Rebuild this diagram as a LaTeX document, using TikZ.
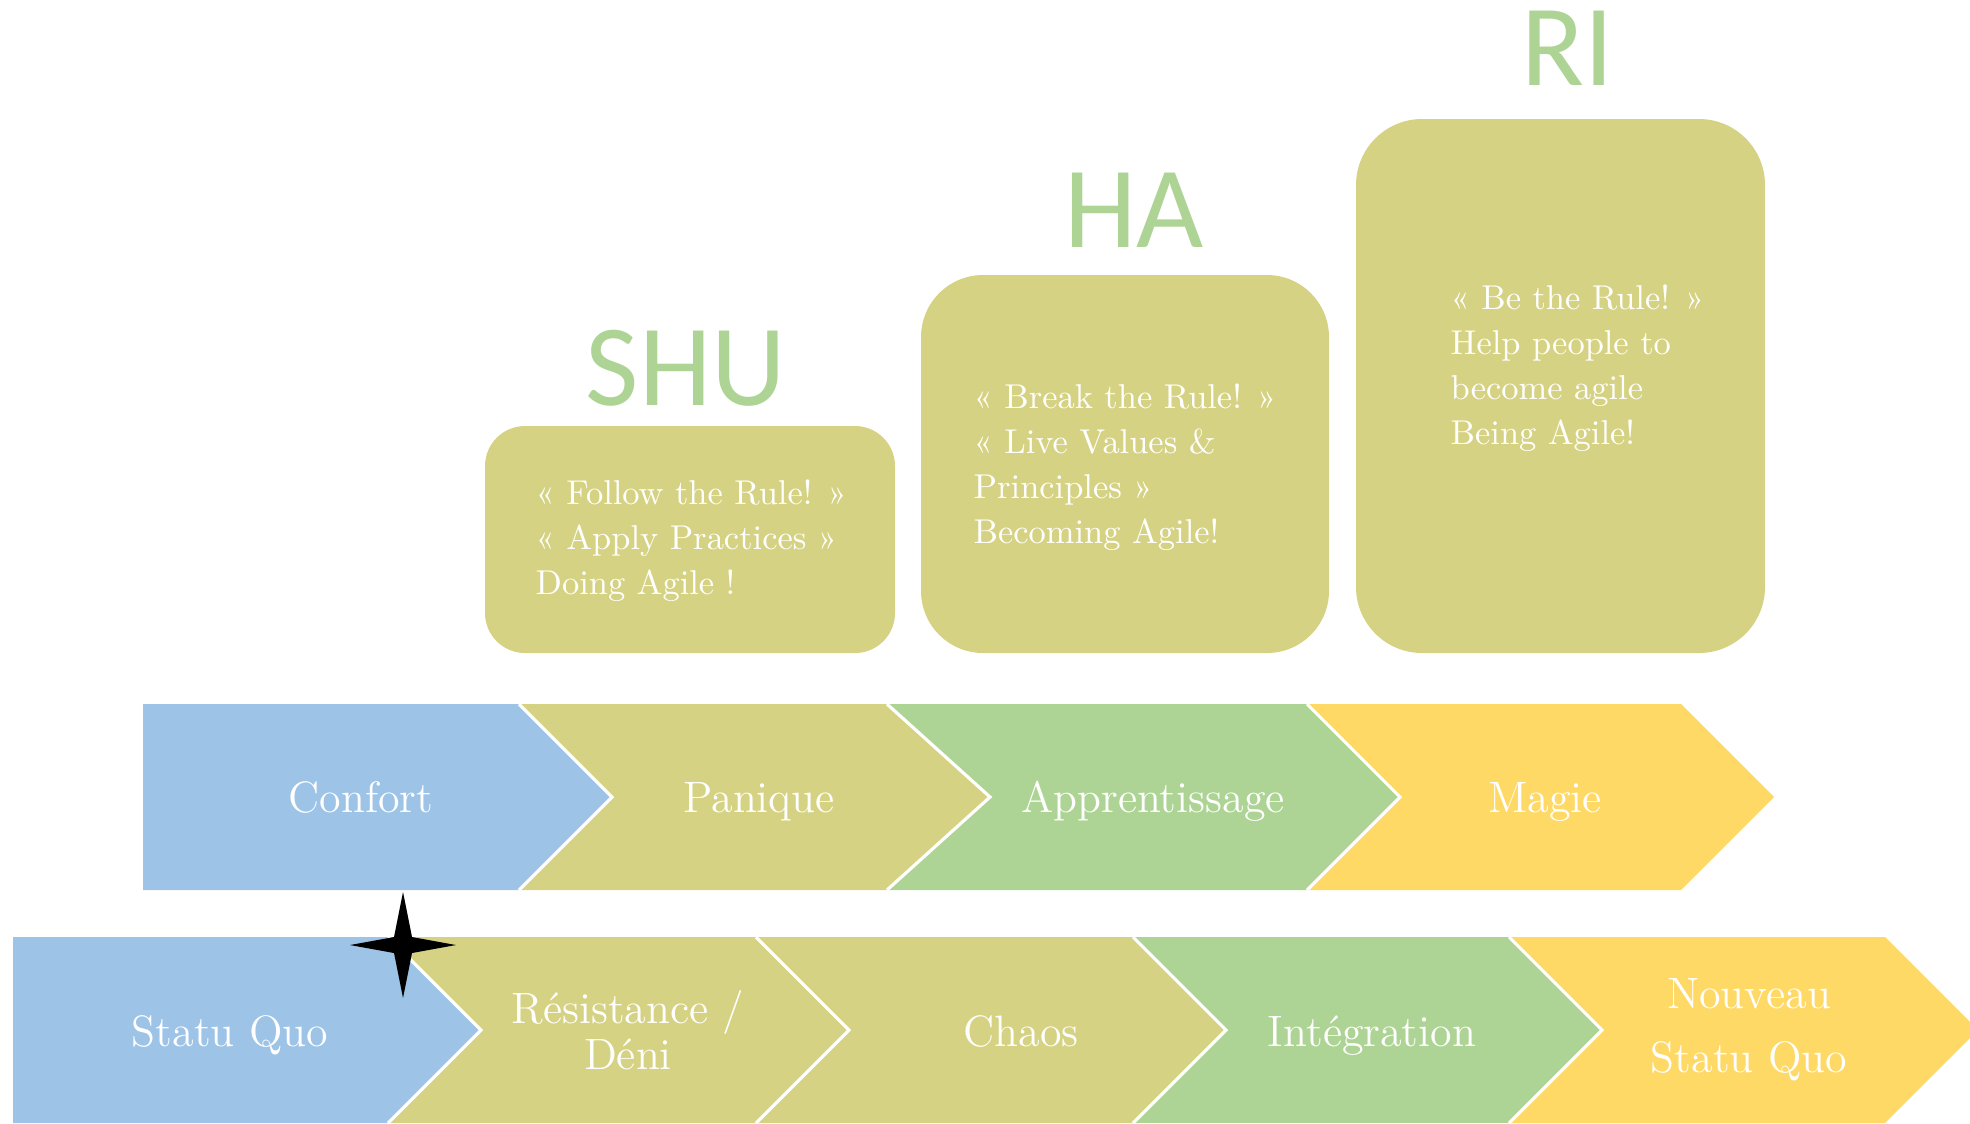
\documentclass[tikz,border=0pt]{standalone}
\usepackage{fontspec}
\newfontfamily\titlefont{Carlito}

\definecolor{comfortblue}{HTML}{9DC3E6}
\definecolor{olivekhaki}{HTML}{D6D283}
\definecolor{leafgreen}{HTML}{AED495}
\definecolor{sunyellow}{HTML}{FFD966}

\tikzset{
  stage/.style={white, inner sep=0pt, font=\fontsize{12.5}{13}\selectfont},
  stagesep/.style={white, line width=0.9pt},
  leveltext/.style={white, align=left, anchor=north west, inner sep=0pt,
    font=\fontsize{9.8}{12.8}\selectfont},
  leveltitle/.style={leafgreen, anchor=base, inner sep=0pt,
    font=\titlefont\fontsize{33}{33}\selectfont}
}

\begin{document}
\begin{tikzpicture}[x=0.01cm, y=-0.01cm]
    \useasboundingbox (0,0) rectangle (1970,1123);

    % levels
    \fill [olivekhaki, rounded corners=0.4cm] (485,426) rectangle (895,653);
    \fill [olivekhaki, rounded corners=0.62cm] (921,275) rectangle (1329,653);
    \fill [olivekhaki, rounded corners=0.66cm] (1356,119) rectangle (1765,653);
    \node [leveltitle] (shu) at (686,405) {SHU};
    \node [leveltitle] (ha) at (1134,247) {HA};
    \node [leveltitle] (ri) at (1568,85) {RI};
    \node [leveltext] (shutext) at (535,479) {« Follow the Rule! »\\« Apply Practices »\\Doing Agile !};
    \node [leveltext] (hatext) at (973,383) {« Break the Rule! »\\« Live Values \&\\Principles »\\Becoming Agile!};
    \node [leveltext] (ritext) at (1450,284) {« Be the Rule! »\\Help people to\\become agile\\Being Agile!};

    % top row
    \fill [comfortblue] (143,704) -- (519,704) -- (612,797) -- (519,890) -- (143,890) -- cycle;
    \fill [olivekhaki] (519,704) -- (887,704) -- (990,797) -- (887,890) -- (519,890) -- (612,797) -- cycle;
    \fill [leafgreen] (887,704) -- (1307,704) -- (1400,797) -- (1307,890) -- (887,890) -- (990,797) -- cycle;
    \fill [sunyellow] (1307,704) -- (1681,704) -- (1774,797) -- (1681,890) -- (1307,890) -- (1400,797) -- cycle;
    \draw [stagesep] (519,704) -- (612,797) -- (519,890);
    \draw [stagesep] (887,704) -- (990,797) -- (887,890);
    \draw [stagesep] (1307,704) -- (1400,797) -- (1307,890);
    \node [stage, anchor=base] (confort) at (361,812) {Confort};
    \node [stage, anchor=base] (panique) at (759,812) {Panique};
    \node [stage, anchor=base] (apprentissage) at (1153,812) {Apprentissage};
    \node [stage, anchor=base] (magie) at (1545,812) {Magie};

    % bottom row
    \fill [comfortblue] (13,937) -- (388,937) -- (481,1030) -- (388,1123) -- (13,1123) -- cycle;
    \fill [olivekhaki] (388,937) -- (756,937) -- (849,1030) -- (756,1123) -- (388,1123) -- (481,1030) -- cycle;
    \fill [olivekhaki] (756,937) -- (1133,937) -- (1226,1030) -- (1133,1123) -- (756,1123) -- (849,1030) -- cycle;
    \fill [leafgreen] (1133,937) -- (1509,937) -- (1602,1030) -- (1509,1123) -- (1133,1123) -- (1226,1030) -- cycle;
    \fill [sunyellow] (1509,937) -- (1885,937) -- (1978,1030) -- (1885,1123) -- (1509,1123) -- (1602,1030) -- cycle;
    \draw [stagesep] (388,937) -- (481,1030) -- (388,1123);
    \draw [stagesep] (756,937) -- (849,1030) -- (756,1123);
    \draw [stagesep] (1133,937) -- (1226,1030) -- (1133,1123);
    \draw [stagesep] (1509,937) -- (1602,1030) -- (1509,1123);
    \node [stage, anchor=base] (statuquo) at (230,1046) {Statu Quo};
    \node [stage, align=center] (resistance) at (628,1030) {Résistance /\\Déni};
    \node [stage, anchor=base] (chaos) at (1021,1046) {Chaos};
    \node [stage, anchor=base] (integration) at (1372,1046) {Intégration};
    \node [stage, align=center, font=\fontsize{12.5}{18.2}\selectfont] (nouveau) at (1749,1030) {Nouveau\\Statu Quo};

    % you are here
    \fill [black] (403,892) -- (412,937) -- (456,945) -- (412,953) -- (403,998) -- (394,953) -- (350,945) -- (394,937) -- cycle;
\end{tikzpicture}
\end{document}
